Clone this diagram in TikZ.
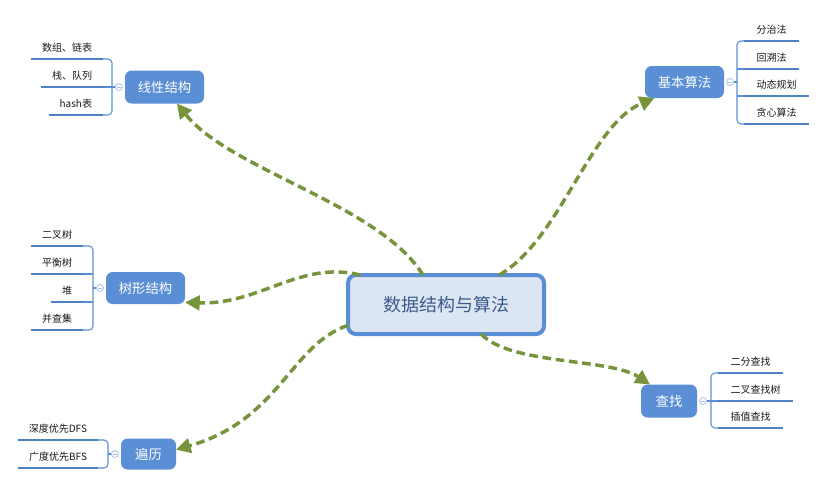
\documentclass[tikz,border=0pt]{standalone}
\usepackage{fontspec}
\newfontfamily\cjk{Noto Sans CJK SC}
\usetikzlibrary{arrows.meta,positioning}
\definecolor{topicblue}{HTML}{5A8FD6}
\definecolor{centerfill}{HTML}{DCE6F2}
\definecolor{centerline}{HTML}{5A8ED4}
\definecolor{centertext}{HTML}{3C5A8C}
\definecolor{ulblue}{HTML}{4F81C7}
\definecolor{brblue}{HTML}{5B8FD5}
\definecolor{circblue}{HTML}{A7C0E8}
\definecolor{arrowgreen}{HTML}{77933C}
\tikzset{
  mainbox/.style={draw=centerline, line width=3pt, fill=centerfill, rounded corners=6pt,
    minimum width=147pt, minimum height=44.25pt, inner sep=0pt, outer sep=0pt,
    font=\cjk\fontsize{13.5}{16}\selectfont, text=centertext},
  topicbox/.style={fill=topicblue, rounded corners=5pt, inner sep=0pt, outer sep=0pt,
    minimum width=59.25pt, minimum height=24pt, text=white, font=\cjk\fontsize{10}{12}\selectfont},
  leaf/.style={inner xsep=8.25pt, inner ysep=4.5pt, outer sep=0pt, text height=6pt, text depth=1pt,
    font=\cjk\fontsize{7.5}{9}\selectfont, text=black!90},
  leafr/.style={leaf, inner xsep=9.5pt},
  ul/.style={draw=ulblue, line width=2.2pt},
  br/.style={draw=brblue, line width=0.8pt, rounded corners=3pt},
  circ/.style={circle, draw=circblue, fill=white, line width=0.6pt, minimum size=5.3pt, inner sep=0pt, outer sep=0pt,
    path picture={\draw[circblue, line width=0.5pt] ([xshift=-1.4pt]path picture bounding box.center) -- ([xshift=1.4pt]path picture bounding box.center);}},
  arr/.style={draw=arrowgreen, line width=2.6pt, dash pattern=on 6.5pt off 3.5pt,
    -{Triangle[length=11pt, width=11pt, fill=arrowgreen]}}
}
\begin{document}
\begin{tikzpicture}[x=0.75pt, y=-0.75pt]
\useasboundingbox[fill=white] (0,0) rectangle (827,487);

% central node
\node[mainbox] (m) at (446,304.5) {数据结构与算法};

% topic nodes
\node[topicbox, minimum height=24.75pt] (t1) at (164.5,87) {线性结构};
\node[topicbox] (t2) at (684.5,82) {基本算法};
\node[topicbox] (t3) at (145.5,288) {树形结构};
\node[topicbox, minimum width=42pt, minimum height=24.75pt] (t4) at (669,401) {查找};
\node[topicbox, minimum width=41.25pt, minimum height=23.25pt] (t5) at (148.5,454) {遍历};

% collapse circles
\node[circ, left=1.9pt of t1] (c1) {};
\node[circ, right=1.9pt of t2] (c2) {};
\node[circ, left=1.9pt of t3] (c3) {};
\node[circ, right=1.9pt of t4] (c4) {};
\node[circ, left=1.9pt of t5] (c5) {};

% bracket hubs
\coordinate (b1) at (112,87);
\coordinate (b2) at (737,82);
\coordinate (b3) at (93,288);
\coordinate (b4) at (711,401);
\coordinate (b5) at (108,454);

% group 1 leaves
\node[leaf, anchor=south east] (a11) at (103,59) {数组、链表};
\node[leaf, anchor=south east] (a12) at (103,87) {栈、队列};
\node[leaf, anchor=south east] (a13) at (103,115) {hash表};
% group 2 leaves
\node[leafr, anchor=south west] (a21) at (744,41) {分治法};
\node[leafr, anchor=south west] (a22) at (744,69) {回溯法};
\node[leafr, anchor=south west] (a23) at (744,96) {动态规划};
\node[leafr, anchor=south west] (a24) at (744,124) {贪心算法};
% group 3 leaves
\node[leaf, anchor=south east] (a31) at (83,246) {二叉树};
\node[leaf, anchor=south east] (a32) at (83,274) {平衡树};
\node[leaf, anchor=south east] (a33) at (83,302) {堆};
\node[leaf, anchor=south east] (a34) at (83,330) {并查集};
% group 4 leaves
\node[leafr, anchor=south west] (a41) at (718,373) {二分查找};
\node[leafr, anchor=south west] (a42) at (718,401) {二叉查找树};
\node[leafr, anchor=south west] (a43) at (718,428) {插值查找};
% group 5 leaves
\node[leaf, anchor=south east] (a51) at (98,440) {深度优先DFS};
\node[leaf, anchor=south east] (a52) at (98,468) {广度优先BFS};

% underlines
\foreach \n in {a11,a12,a13,a21,a22,a23,a24,a31,a32,a33,a34,a41,a42,a43,a51,a52}
  \draw[ul] (\n.south west) -- (\n.south east);

% brackets
\draw[br] (a11.south east) -| (b1) |- (a13.south east);
\draw[br] (a12.south east) -- (b1 |- a12.south east);
\draw[br] (c1.west) -- (b1);

\draw[br] (a21.south west) -| (b2) |- (a24.south west);
\draw[br] (a22.south west) -- (b2 |- a22.south west);
\draw[br] (a23.south west) -- (b2 |- a23.south west);
\draw[br] (c2.east) -- (b2);

\draw[br] (a31.south east) -| (b3) |- (a34.south east);
\draw[br] (a32.south east) -- (b3 |- a32.south east);
\draw[br] (a33.south east) -- (b3 |- a33.south east);
\draw[br] (c3.west) -- (b3);

\draw[br] (a41.south west) -| (b4) |- (a43.south west);
\draw[br] (a42.south west) -- (b4 |- a42.south west);
\draw[br] (c4.east) -- (b4);

\draw[br] (a51.south east) -| (b5) |- (a52.south east);
\draw[br] (c5.west) -- (b5);

% arrows
\draw[arr] (m.128) .. controls (380,205) and (230,170) .. (t1.-53);
\draw[arr] (m.29) .. controls (560,240) and (590,125) .. (t2.208);
\draw[arr] (m.161) .. controls (300,260) and (260,305) .. (t3.-20);
\draw[arr] (m.192) .. controls (290,345) and (280,420) .. (t5.9);
\draw[arr] (m.320) .. controls (510,365) and (610,358) .. (t4.139);
\end{tikzpicture}
\end{document}
